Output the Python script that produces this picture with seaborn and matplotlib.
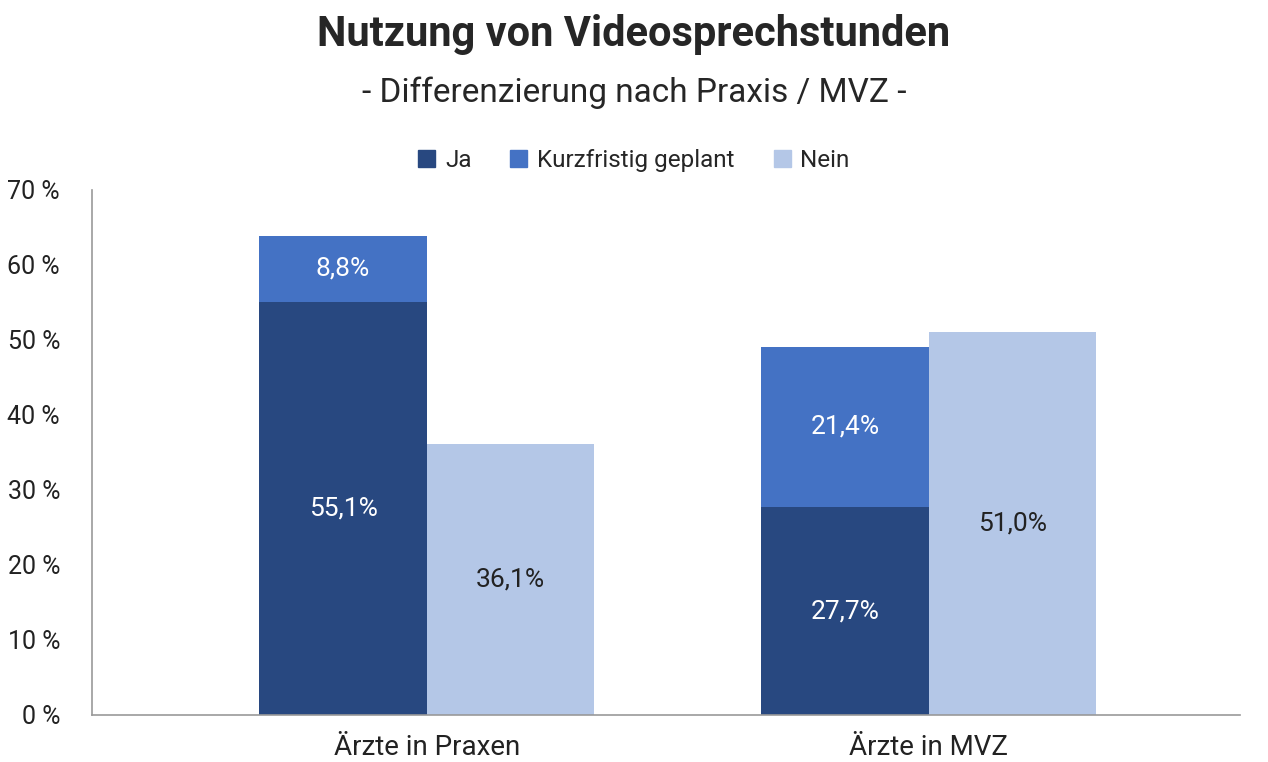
import matplotlib.pyplot as plt
import seaborn as sns
import pandas as pd
from matplotlib.patches import Patch

gruppen = ['Ärzte in Praxen', 'Ärzte in MVZ']
ja = [55.1, 27.7]
kurzfristig = [8.8, 21.4]
nein = [36.1, 51.0]

c_ja = '#284880'
c_kurz = '#4472C4'
c_nein = '#B4C7E7'

sns.set_style('white')
plt.rcParams['font.family'] = ['Roboto', 'DejaVu Sans']

gesamt = [j + k for j, k in zip(ja, kurzfristig)]
df_top = pd.DataFrame({
    'Gruppe': gruppen * 2,
    'Balken': ['Gesamt'] * 2 + ['Nein'] * 2,
    'Wert': gesamt + nein,
})
# Ja-Segment unten im Stapel (Nein wird gleich nochmal gezeichnet, damit dodge stimmt)
df_ja = pd.DataFrame({
    'Gruppe': gruppen * 2,
    'Balken': ['Gesamt'] * 2 + ['Nein'] * 2,
    'Wert': ja + nein,
})

fig = plt.figure(figsize=(12.68, 7.62), dpi=100)
ax = fig.add_axes([0.0726, 0.0617, 0.905, 0.689])

common = dict(x='Gruppe', y='Wert', hue='Balken', order=gruppen, hue_order=['Gesamt', 'Nein'],
              width=0.667, gap=0, dodge=True, errorbar=None, legend=False, saturation=1,
              linewidth=0, ax=ax)
sns.barplot(data=df_top, palette={'Gesamt': c_kurz, 'Nein': c_nein}, **common)
sns.barplot(data=df_ja, palette={'Gesamt': c_ja, 'Nein': c_nein}, **common)

def fmt(v):
    return f'{v:.1f}%'.replace('.', ',')

top_bars = ax.containers[0]
nein_bars = ax.containers[1]
for i, bar in enumerate(top_bars):
    xc = bar.get_x() + bar.get_width() / 2
    ax.text(xc, ja[i] / 2, fmt(ja[i]), ha='center', va='center', color='white', fontsize=19)
    ax.text(xc, ja[i] + kurzfristig[i] / 2, fmt(kurzfristig[i]), ha='center', va='center',
            color='white', fontsize=19)
for i, bar in enumerate(nein_bars):
    xc = bar.get_x() + bar.get_width() / 2
    ax.text(xc, nein[i] / 2, fmt(nein[i]), ha='center', va='center', color='#222222', fontsize=19)

ax.set_ylim(0, 70)
ax.set_xlim(-0.667, 1.62)
ax.set_yticks(range(0, 71, 10))
ax.set_yticklabels([f'{t} %' for t in range(0, 71, 10)])
ax.set_xlabel('')
ax.set_ylabel('')
ax.tick_params(axis='y', length=7, width=1, color='#999999', labelsize=18, labelcolor='#222222', pad=16)
ax.tick_params(axis='x', length=0, labelsize=20, labelcolor='#222222', pad=14)
for s in ['top', 'right']:
    ax.spines[s].set_visible(False)
for s in ['left', 'bottom']:
    ax.spines[s].set_color('#999999')
    ax.spines[s].set_linewidth(1.2)

handles = [Patch(color=c_ja, label='Ja'), Patch(color=c_kurz, label='Kurzfristig geplant'),
           Patch(color=c_nein, label='Nein')]
fig.legend(handles=handles, loc='center', bbox_to_anchor=(0.5, 0.79), ncol=3, frameon=False,
           fontsize=17.5, handlelength=0.7, handleheight=0.7, handletextpad=0.4, columnspacing=1.6)

fig.text(0.5, 0.955, 'Nutzung von Videosprechstunden', ha='center', va='center',
         fontsize=30, fontweight='bold')
fig.text(0.5, 0.878, '- Differenzierung nach Praxis / MVZ -', ha='center', va='center', fontsize=24)

plt.savefig('out.png', dpi=100)
